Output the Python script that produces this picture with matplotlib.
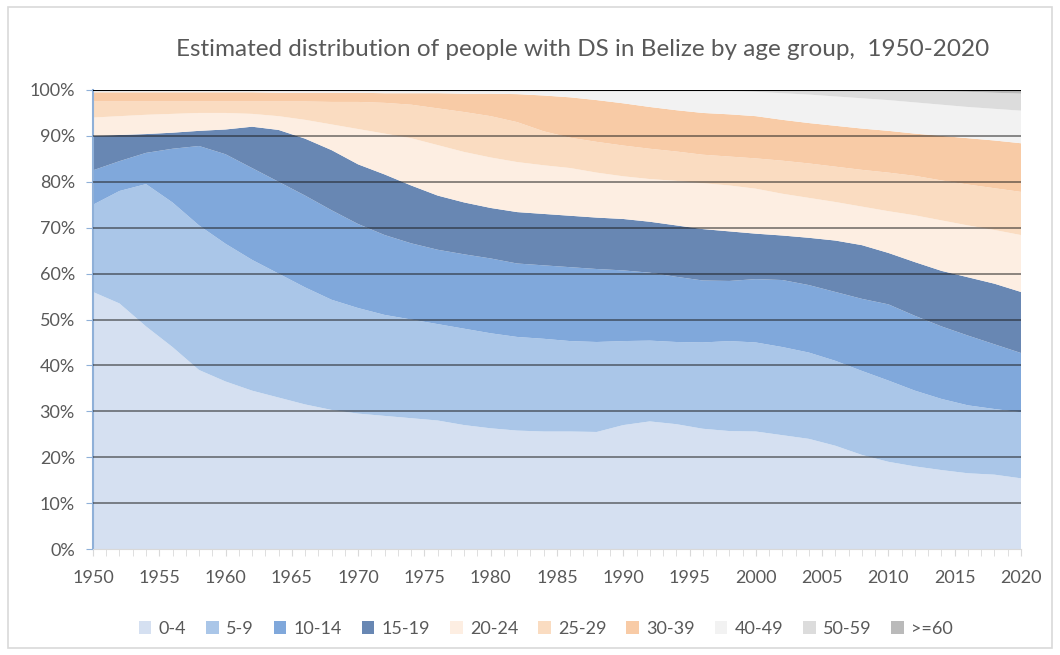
import numpy as np
import matplotlib
matplotlib.use("Agg")
import matplotlib.pyplot as plt
from matplotlib.patches import Rectangle

plt.rcParams['font.family'] = ['Lato', 'DejaVu Sans']

# years read every 2 years off the chart
years = [1950, 1952, 1954, 1956, 1958, 1960, 1962, 1964, 1966, 1968,
         1970, 1972, 1974, 1976, 1978, 1980, 1982, 1984, 1986, 1988,
         1990, 1992, 1994, 1996, 1998, 2000, 2002, 2004, 2006, 2008,
         2010, 2012, 2014, 2016, 2018, 2020]

groups = ['0-4', '5-9', '10-14', '15-19', '20-24', '25-29', '30-39', '40-49', '50-59', '>=60']

# share of each age group (%)
age_0_4 = [56, 53.5, 48.5, 44, 39, 36.5, 34.5, 33, 31.5, 30.3,
           29.5, 29, 28.5, 28, 27, 26.3, 25.8, 25.6, 25.6, 25.5,
           27, 27.8, 27.2, 26.2, 25.7, 25.6, 24.8, 24, 22.5, 20.5,
           19, 18, 17.2, 16.5, 16.2, 15.4]
age_5_9 = [19, 24.5, 31, 31.5, 31.5, 30, 28.5, 27, 25.5, 24,
           23, 22, 21.5, 21, 21, 20.7, 20.4, 20.2, 19.7, 19.6,
           18.3, 17.6, 17.9, 18.8, 19.6, 19.4, 19.2, 18.8, 18.5, 18.3,
           17.7, 16.5, 15.5, 14.8, 14.3, 14.4]
age_10_14 = [7.5, 6.5, 6.8, 11.7, 17.3, 19.5, 20, 20, 20, 19.5,
             18.3, 17.4, 16.6, 16.2, 16.2, 16.3, 16, 16, 16.1, 15.9,
             15.4, 14.8, 14.2, 13.5, 13.1, 13.8, 14.6, 14.7, 15, 15.7,
             16.6, 16.3, 15.8, 15.2, 14.1, 12.9]
age_15_19 = [7.5, 5.7, 4.1, 3.5, 3.3, 5.4, 9, 11.3, 12.4, 13.1,
             13, 13.2, 12.6, 11.8, 11.3, 11, 11.2, 11.2, 11.2, 11.2,
             11.2, 11.1, 11.2, 11.2, 10.8, 9.9, 9.7, 10.3, 11.2, 11.7,
             11.2, 11.7, 12.1, 12.7, 13.2, 13.3]
age_20_24 = [4, 4.1, 4.2, 4.1, 3.9, 3.6, 2.8, 3, 4.1, 5.6,
             7.7, 8.9, 10.3, 11, 11, 11, 10.9, 10.6, 10.4, 9.8,
             9.3, 9.3, 9.7, 10, 10, 9.8, 9.1, 8.7, 8.4, 8.4,
             9.1, 10.2, 11, 11.3, 11.7, 12.4]
age_25_29 = [3.5, 3.2, 2.9, 2.7, 2.5, 2.5, 2.7, 3.2, 4, 4.9,
             5.9, 6.7, 7.3, 8, 8.7, 9, 8.7, 7.4, 6.6, 6.7,
             6.7, 6.6, 6.4, 6.2, 6.3, 6.6, 7.2, 7.5, 7.7, 8,
             8.4, 8.6, 8.7, 8.9, 9.1, 9.4]
age_30_39 = [2, 2, 2, 2, 2, 2, 2, 1.9, 1.9, 2,
             2, 2.1, 2.5, 3.3, 4, 4.9, 6.1, 7.8, 8.8, 9.1,
             9.2, 9.1, 9, 9.1, 9.2, 9.2, 8.9, 8.8, 8.9, 9,
             9.1, 9.2, 9.7, 10.1, 10.4, 10.6]
age_40_49 = [0.3, 0.3, 0.3, 0.3, 0.3, 0.3, 0.3, 0.4, 0.4, 0.4,
             0.4, 0.5, 0.5, 0.5, 0.6, 0.6, 0.7, 1.0, 1.4, 2.0,
             2.7, 3.5, 4.2, 4.8, 5.1, 5.3, 5.8, 6.2, 6.4, 6.6,
             6.7, 6.8, 6.8, 6.8, 6.9, 7.1]
age_50_59 = [0.15] * 25 + [0.35, 0.65, 0.95, 1.35, 1.75,
                           2.1, 2.5, 2.9, 3.3, 3.5, 3.7]
age_60_plus = [0.05] * 30 + [0.1, 0.2, 0.3, 0.4, 0.6, 0.8]

colors = ['#d5e0f1', '#aac6e8', '#80a8db', '#6887b3',
          '#fdeee2', '#fadcc1', '#f8cba6', '#f2f2f2', '#dcdcdc', '#bababa']

series = [age_0_4, age_5_9, age_10_14, age_15_19, age_20_24,
          age_25_29, age_30_39, age_40_49, age_50_59, age_60_plus]

fig = plt.figure(figsize=(10.6, 6.55), dpi=100)
ax = fig.add_axes([0.0877, 0.1618, 0.8755, 0.7008])

ax.stackplot(years, *series, colors=colors, labels=groups, linewidth=0)

ax.set_xlim(1950, 2020)
ax.set_ylim(0, 100)

# gridlines showing through the areas
for v in range(10, 100, 10):
    ax.axhline(v, color='#1a1a1a', alpha=0.5, linewidth=1.4, zorder=5)
ax.axhline(100, color='black', linewidth=1.5, zorder=6)

ax.set_yticks(range(0, 101, 10))
ax.set_yticklabels([f'{v}%' for v in range(0, 101, 10)], fontsize=13, color='#595959')
ax.set_xticks(range(1950, 2021, 5))
ax.set_xticklabels([str(y) for y in range(1950, 2021, 5)], fontsize=13, color='#595959')
ax.set_xticks(range(1950, 2021), minor=True)
ax.tick_params(axis='x', which='major', length=5, color='#d9d9d9', pad=10)
ax.tick_params(axis='x', which='minor', length=5, color='#d9d9d9')
ax.tick_params(axis='y', length=5, color='#8fb0d8', pad=8)

for s in ['top', 'right']:
    ax.spines[s].set_visible(False)
ax.spines['left'].set_color('#8fb0d8')
ax.spines['left'].set_linewidth(1.5)
ax.spines['bottom'].set_color('#d9d9d9')

fig.text(0.55, 0.924, 'Estimated distribution of people with DS in Belize by age group,  1950-2020',
         ha='center', va='center', fontsize=17.5, color='#595959')

fig.legend(loc='center', bbox_to_anchor=(0.515, 0.04), ncol=10, frameon=False,
           fontsize=13, handlelength=0.7, handleheight=0.7, handletextpad=0.4,
           columnspacing=1.1, labelcolor='#595959')

fig.patches.append(Rectangle((0.008, 0.01), 0.984, 0.98, transform=fig.transFigure,
                             fill=False, edgecolor='#d9d9d9', linewidth=1.2))

fig.savefig('out.png', dpi=100, facecolor='white')
